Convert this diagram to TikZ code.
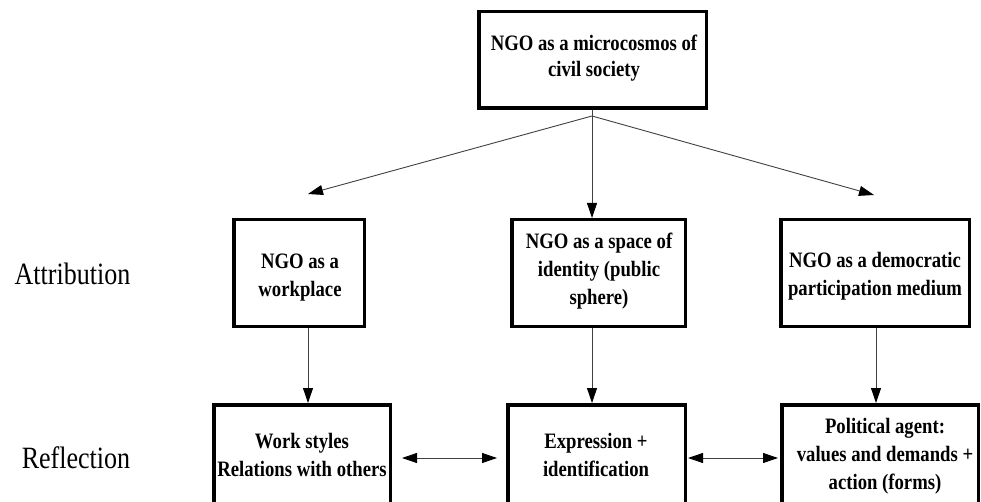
\documentclass[tikz,border=0pt]{standalone}
\usepackage{fontspec}
\setmainfont{Liberation Serif}[FakeStretch=0.84]
\newfontfamily\boxfont{Liberation Serif}[FakeStretch=0.85]
\usetikzlibrary{arrows.meta,calc}
\begin{document}
\begin{tikzpicture}[x=1pt,y=-1pt,
  box/.style={draw=black, line width=3.5pt, rectangle, inner sep=0pt},
  txt/.style={anchor=north, align=center, inner sep=0pt,
    font=\boxfont\bfseries\fontsize{22}{28}\selectfont},
  toptxt/.style={txt, font=\boxfont\bfseries\fontsize{22}{26}\selectfont},
  lbl/.style={anchor=base, inner sep=0pt, font=\fontsize{31}{36}\selectfont},
  tip/.tip={Triangle[length=15pt,width=10pt,color=black]},
  arr/.style={draw=black!75, line width=0.9pt, -tip},
  dbl/.style={draw=black!75, line width=0.9pt, tip-tip}]
\useasboundingbox (0,0) rectangle (981,502);
\clip (0,0) rectangle (981,502);

% boxes
\node[box, minimum width=227.5pt, minimum height=96.5pt] (top) at (592.5,60) {};
\node[box, minimum width=130.5pt, minimum height=106.5pt] (m1) at (299,273) {};
\node[box, minimum width=173.5pt, minimum height=106.5pt] (m2) at (598.5,273) {};
\node[box, minimum width=188.5pt, minimum height=106.5pt] (m3) at (875,273) {};
\node[box, minimum width=176.5pt, minimum height=153.5pt] (b1) at (302,481.5) {};
\node[box, minimum width=177.5pt, minimum height=153.5pt] (b2) at (596.5,481.5) {};
\node[box, minimum width=196.5pt, minimum height=153.5pt] (b3) at (880,481.5) {};

% texts
\node[toptxt] (t0) at (594,34) {\rule{0pt}{16pt}NGO as a microcosmos of\\civil society};
\node[txt] (t1) at (300,252) {\rule{0pt}{16pt}NGO as a\\workplace};
\node[txt] (t2) at (599,232) {\rule{0pt}{16pt}NGO as a space of\\identity (public\\sphere)};
\node[txt] (t3) at (875,251) {\rule{0pt}{16pt}NGO as a democratic\\participation medium};
\node[txt] (t4) at (302,432) {\rule{0pt}{16pt}Work styles\\Relations with others};
\node[txt] (t5) at (596,432) {\rule{0pt}{16pt}Expression +\\identification};
\node[txt] (t6) at (885,417) {\rule{0pt}{16pt}Political agent:\\values and demands +\\action (forms)};

\node[lbl] (attr) at (72.5,284) {Attribution};
\node[lbl] (refl) at (76,468) {Reflection};

% connectors from the top box
\coordinate (src) at (592,116);
\coordinate (lt) at (308,194);
\coordinate (rt) at (874,195);
\draw[draw=black!75, line width=0.9pt] (top.south -| src) -- (src);
\draw[arr] (src) -- (lt);
\draw[arr] (src) -- (rt);
\draw[arr] (src) -- (src |- m2.north);

% vertical connectors
\coordinate (x1) at (308,0);
\coordinate (x2) at (592,0);
\coordinate (x3) at (876,0);
\draw[arr] (m1.south -| x1) -- (b1.north -| x1);
\draw[arr] (m2.south -| x2) -- (b2.north -| x2);
\draw[arr] (m3.south -| x3) -- (b3.north -| x3);

% horizontal double arrows
\coordinate (hy) at (0,458);
\draw[dbl, shorten <=10pt, shorten >=9pt] (b1.east |- hy) -- (b2.west |- hy);
\draw[dbl, shorten <=1pt, shorten >=2pt] (b2.east |- hy) -- (b3.west |- hy);
\end{tikzpicture}
\end{document}
